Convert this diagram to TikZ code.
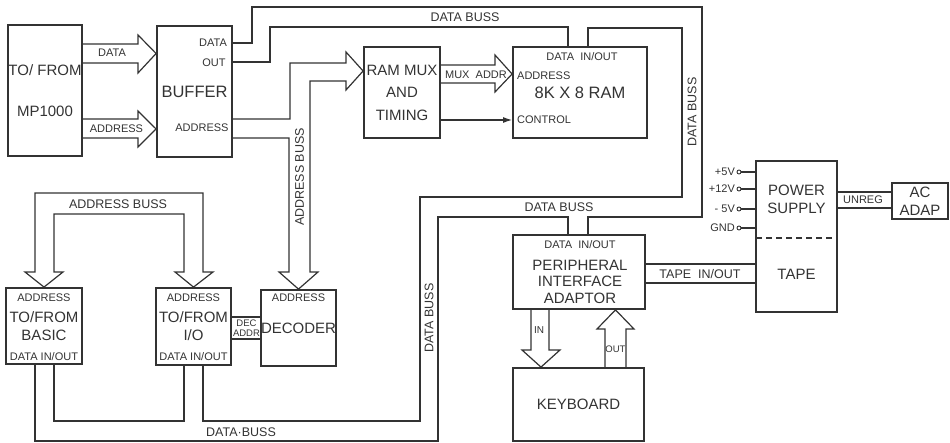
\documentclass[tikz,border=0pt]{standalone}
\usepackage{fontspec}
\setmainfont{Liberation Sans}
\usetikzlibrary{arrows.meta}

\definecolor{ink}{gray}{0.2}
\tikzset{
  block/.style={draw=ink, line width=1.8pt, inner sep=0pt, align=center, font=\fontsize{15}{18}\selectfont},
  wire/.style={draw=ink, line width=1.2pt},
  tag/.style={inner sep=0pt, font=\fontsize{11}{13}\selectfont},
  busname/.style={inner sep=0pt, font=\fontsize{12.5}{14}\selectfont},
  term/.style={circle, draw=ink, line width=0.9pt, inner sep=0pt, minimum size=4pt},
}

\begin{document}
\begin{tikzpicture}[x=1pt, y=-1pt, color=ink]
\useasboundingbox (0,0) rectangle (950,443);
% blocks
\node[block, minimum width=74pt, minimum height=131pt] (mp) at (45,90.5) {TO/ FROM\\[23pt]MP1000};
\node[block, minimum width=75pt, minimum height=131pt, font=\fontsize{16.5}{18}\selectfont] (buf) at (194.5,91.5) {BUFFER};
\node[block, minimum width=76pt, minimum height=91pt] (mux) at (402,92.5) {RAM MUX\\[4.5pt]AND\\[4.5pt]TIMING};
\node[block, minimum width=134pt, minimum height=91pt, font=\fontsize{16.5}{18}\selectfont] (ram) at (580,92.5) {8K X 8 RAM};
\node[block, minimum width=76pt, minimum height=76pt] (basic) at (44,326) {TO/FROM\\BASIC};
\node[block, minimum width=75pt, minimum height=77pt] (io) at (193.5,326.5) {TO/FROM\\I/O};
\node[block, minimum width=73pt, minimum height=76pt] (dec) at (298.5,328) {DECODER};
\node[block, minimum width=132pt, minimum height=74pt] (pia) at (579,272) {};
\node[block, draw=none, font=\fontsize{15}{16.5}\selectfont] (piatxt) at (580,281.5) {PERIPHERAL\\INTERFACE\\ADAPTOR};
\node[block, minimum width=131pt, minimum height=73pt] (kbd) at (578.5,404.5) {KEYBOARD};
\node[block, draw=none, minimum width=79pt, minimum height=75pt] (psu) at (796.5,199.5) {POWER\\SUPPLY};
\node[block, draw=none, minimum width=79pt, minimum height=74pt] (tape) at (796.5,274) {TAPE};
\draw[line width=1.8pt] (psu.north west) rectangle (tape.south east);
\draw[line width=1.3pt, dash pattern=on 6pt off 4pt] (psu.south west) -- (psu.south east);
\node[block, minimum width=56pt, minimum height=36pt] (adap) at (920,201) {AC\\ADAP};

% port names
\node[tag] (bufdat) at (213,43) {DATA};
\node[tag] (bufout) at (214,63) {OUT};
\node[tag] (bufadr) at (202,128) {ADDRESS};
\node[tag] (ramdat) at (582,57) {DATA\ \ IN/OUT};
\node[tag, anchor=west] (ramadr) at (517,76) {ADDRESS};
\node[tag, anchor=west] (ramctl) at (517,120) {CONTROL};
\node[tag] (basadr) at (44,298) {ADDRESS};
\node[tag] (basdat) at (44,357) {DATA IN/OUT};
\node[tag] (ioadr) at (193.5,298) {ADDRESS};
\node[tag] (iodat) at (193.5,357) {DATA IN/OUT};
\node[tag] (decadr) at (298.5,298) {ADDRESS};
\node[tag] (piadat) at (580,245) {DATA\ \ IN/OUT};

% MP1000 to buffer
\draw[wire] (mp.east |- 0,44) -- (138,44) -- (138,35) -- (buf.west |- 0,53.5) -- (138,73) -- (138,63) -- (mp.east |- 0,63);
\draw[wire] (mp.east |- 0,119) -- (138,119) -- (138,111) -- (buf.west |- 0,129) -- (138,147) -- (138,138) -- (mp.east |- 0,138);
\node[tag] (datlbl) at (112,53) {DATA};
\node[tag] (adrlbl) at (116.5,129) {ADDRESS};

% address buss from buffer
\draw[wire] (buf.east |- 0,119) -- (290,119) -- (290,63) -- (346,63) -- (346,52) -- (mux.west |- 0,71) -- (346,90) -- (346,81) -- (310,81) -- (310,272) -- (318,272) -- (dec.north) -- (279,272) -- (289,272) -- (289,138) -- (buf.east |- 0,138);
\node[busname, rotate=90] (abvert) at (299.5,177) {ADDRESS BUSS};

% ram mux to ram
\draw[wire] (mux.east |- 0,65) -- (495,65) -- (495,55) -- (ram.west |- 0,74) -- (495,92) -- (495,83) -- (mux.east |- 0,83);
\node[tag] (muxadr) at (476,75) {MUX\ \ ADDR};
\draw[wire, -{Latex[length=9pt, width=6pt]}] (mux.east |- 0,120) -- (ram.west |- 0,120);

% data buss
\draw[wire] (buf.east |- 0,43) -- (252,43) -- (252,7) -- (702,7) -- (702,217) -- (588,217) -- (pia.north -| 588,0);
\draw[wire] (buf.east |- 0,62) -- (270,62) -- (270,27) -- (568,27) -- (ram.north -| 568,0);
\draw[wire] (ram.north -| 588,0) -- (588,28) -- (682,28) -- (682,197) -- (420,197) -- (420,421) -- (203,421) -- (io.south -| 203,0);
\draw[wire] (pia.north -| 568,0) -- (568,217) -- (438,217) -- (438,441) -- (35,441) -- (basic.south -| 35,0);
\draw[wire] (basic.south -| 54,0) -- (54,421) -- (184,421) -- (io.south -| 184,0);
\node[busname] (dbtop) at (465,17) {DATA BUSS};
\node[busname, rotate=90] (dbright) at (692,112) {DATA BUSS};
\node[busname] (dbmid) at (559,207) {DATA BUSS};
\node[busname, rotate=90] (dbleft) at (429,318) {DATA BUSS};
\node[busname] (dbbot) at (241,432) {DATA·BUSS};

% address buss to basic and i/o
\draw[wire] (basic.north) -- (63,272) -- (54,272) -- (54,214) -- (184,214) -- (184,272) -- (175,272) -- (io.north) -- (213,272) -- (203,272) -- (203,193) -- (35,193) -- (35,272) -- (25,272) -- cycle;
\node[busname] (abtop) at (118,204) {ADDRESS BUSS};

% i/o to decoder
\draw[wire] (io.east |- 0,317) -- (dec.west |- 0,317);
\draw[wire] (io.east |- 0,339) -- (dec.west |- 0,339);
\node[tag, align=center, font=\fontsize{9.5}{10}\selectfont] (decadd) at (246.5,328) {DEC\\ADDR};

% keyboard
\draw[wire] (pia.south -| 531,0) -- (531,350) -- (522,350) -- (kbd.north -| 541,0) -- (560,350) -- (549,350) -- (pia.south -| 549,0);
\draw[wire] (kbd.north -| 605,0) -- (605,329) -- (597,329) -- (pia.south -| 615.5,0) -- (634,329) -- (626,329) -- (kbd.north -| 626,0);
\node[tag, font=\fontsize{10}{12}\selectfont] (inlbl) at (539,330) {IN};
\node[tag, font=\fontsize{9.5}{12}\selectfont] (outlbl) at (615.5,349) {OUT};

% tape and power
\draw[wire] (pia.east |- 0,264) -- (tape.west |- 0,264);
\draw[wire] (pia.east |- 0,283) -- (tape.west |- 0,283);
\node[busname] (tapelbl) at (700,274) {TAPE\ \ IN/OUT};
\draw[wire] (psu.east |- 0,192) -- (adap.west |- 0,192);
\draw[wire] (psu.east |- 0,208) -- (adap.west |- 0,208);
\node[tag] (unreg) at (863,200) {UNREG};
\node[term, label={[tag, inner sep=1.5pt]left:+5V}] (v5) at (739,172) {};
\node[term, label={[tag, inner sep=1.5pt]left:+12V}] (v12) at (739,189) {};
\node[term, label={[tag, inner sep=1.5pt]left:- 5V}] (vm5) at (739,209) {};
\node[term, label={[tag, inner sep=1.5pt]left:GND}] (gnd) at (739,228) {};
\draw[wire] (v5) -- (psu.west |- v5);
\draw[wire] (v12) -- (psu.west |- v12);
\draw[wire] (vm5) -- (psu.west |- vm5);
\draw[wire] (gnd) -- (psu.west |- gnd);
\end{tikzpicture}
\end{document}
